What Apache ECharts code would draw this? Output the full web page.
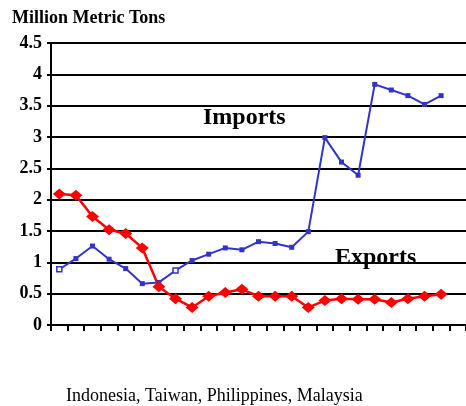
<!DOCTYPE html>
<html>
<head>
<meta charset="utf-8">
<script src="https://cdn.jsdelivr.net/npm/echarts@6/dist/echarts.min.js"></script>
<style>html,body{margin:0;padding:0;background:#fff;}#c{width:466px;height:406px;}</style>
</head>
<body>
<div id="c"></div>
<script>
var categories = ['1','2','3','4','5','6','7','8','9','10','11','12','13','14','15','16','17','18','19','20','21','22','23','24',''];
var imports = [0.89,1.06,1.26,1.05,0.90,0.66,0.68,0.87,1.03,1.13,1.23,1.20,1.33,1.30,1.24,1.49,2.99,2.60,2.39,3.84,3.75,3.66,3.52,3.66];
var exportsV = [2.09,2.07,1.73,1.52,1.46,1.23,0.61,0.42,0.28,0.46,0.52,0.57,0.46,0.46,0.46,0.28,0.39,0.42,0.41,0.41,0.36,0.42,0.46,0.49];
var hollowImports = [0, 7];
var yTicks = [0, 0.5, 1, 1.5, 2, 2.5, 3, 3.5, 4, 4.5];

var serif = '"Liberation Serif", "Times New Roman", serif';
var chart = echarts.init(document.getElementById('c'));
var importData = imports.map(function (v, i) {
  if (hollowImports.indexOf(i) >= 0) {
    return { value: v, itemStyle: { color: '#ffffff', borderColor: '#3333CC', borderWidth: 1.5 } };
  }
  return v;
});
chart.setOption({
  animation: false,
  backgroundColor: '#ffffff',
  grid: { left: 51, right: -6, top: 43, bottom: 81, containLabel: false },
  xAxis: {
    type: 'category',
    data: categories,
    boundaryGap: true,
    axisLine: { lineStyle: { color: '#000', width: 2 } },
    axisTick: { show: true, interval: 0, length: 6, lineStyle: { color: '#000', width: 2 } },
    axisLabel: { show: false, interval: 0 },
    splitLine: { show: false }
  },
  yAxis: {
    type: 'value',
    min: yTicks[0],
    max: yTicks[yTicks.length - 1],
    interval: 0.5,
    axisLine: { show: true, lineStyle: { color: '#000', width: 2 } },
    axisTick: { show: true, length: 4, lineStyle: { color: '#000', width: 2 } },
    axisLabel: { color: '#000', fontFamily: serif, fontWeight: 'bold', fontSize: 18, margin: 9 },
    splitLine: { show: true, lineStyle: { color: '#000', width: 2 } }
  },
  series: [
    {
      name: 'Imports', type: 'line', data: importData,
      symbol: 'rect', symbolSize: 5,
      lineStyle: { color: '#3333CC', width: 2 },
      itemStyle: { color: '#3333CC' }
    },
    {
      name: 'Exports', type: 'line', data: exportsV,
      symbol: 'diamond', symbolSize: [13, 11],
      lineStyle: { color: '#FF0000', width: 2.5 },
      itemStyle: { color: '#FF0000' }
    }
  ],
  graphic: [
    { type: 'text', left: 12, top: 9, style: { text: 'Million Metric Tons', font: 'bold 18px ' + serif, fill: '#000' } },
    { type: 'text', left: 203, top: 106, style: { text: 'Imports', font: 'bold 24px ' + serif, fill: '#000' } },
    { type: 'text', left: 335, top: 246, style: { text: 'Exports', font: 'bold 24px ' + serif, fill: '#000' } },
    { type: 'text', left: 66, top: 387, style: { text: 'Indonesia, Taiwan, Philippines, Malaysia', font: '18px ' + serif, fill: '#000' } }
  ]
});
</script>
</body>
</html>
